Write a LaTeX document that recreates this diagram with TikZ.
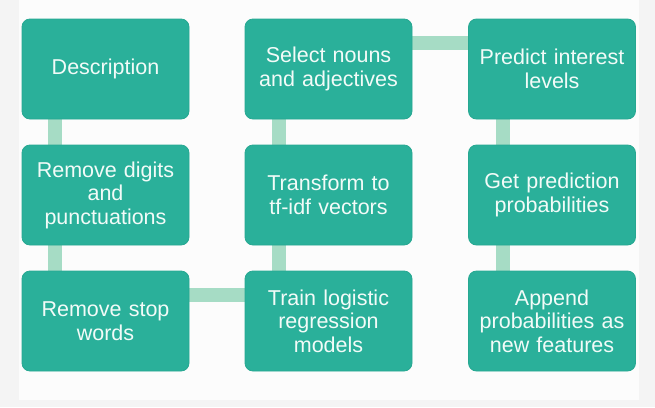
\documentclass[tikz,border=0pt]{standalone}
\usepackage{fontspec}
\setmainfont{Liberation Sans}
\usetikzlibrary{backgrounds}
\definecolor{boxfill}{HTML}{2AB09A}
\definecolor{boxline}{HTML}{27A892}
\definecolor{linkcol}{HTML}{A6DCC5}
\definecolor{outerbg}{HTML}{F4F4F4}
\definecolor{innerbg}{HTML}{FCFCFC}
\definecolor{txtcol}{HTML}{F2FBF8}
\tikzset{
  stepbox/.style={draw=boxline, line width=0.8pt, fill=boxfill, rounded corners=8pt,
    minimum width=167pt, minimum height=100pt, text width=160pt, align=center,
    text=txtcol, inner sep=0pt,
    font=\fontsize{21.5pt}{23.5pt}\selectfont},
  link/.style={draw=linkcol, line width=14pt}
}
\begin{document}
\begin{tikzpicture}[x=1pt,y=-1pt]
\useasboundingbox (0,0) rectangle (655,407);
\node[stepbox] (d) at (105.5,69) {Description};
\node[stepbox] (rd) at (105.5,195) {Remove digits\\and\\punctuations};
\node[stepbox] (rs) at (105.5,321) {Remove stop\\words};
\node[stepbox] (sn) at (328.5,69) {Select nouns\\and adjectives};
\node[stepbox] (tf) at (328.5,195) {Transform to\\tf-idf vectors};
\node[stepbox] (tr) at (328.5,321) {Train logistic\\regression\\models};
\node[stepbox] (pi) at (552,69) {Predict interest\\levels};
\node[stepbox] (gp) at (552,195) {Get prediction\\probabilities};
\node[stepbox] (ap) at (552,321) {Append\\probabilities as\\new features};
\begin{scope}[on background layer]
\fill[outerbg] (0,0) rectangle (655,407);
\fill[innerbg] (19,0) rectangle (639,400);
\draw[link] ([xshift=33pt]d.south west) -- ([xshift=33pt]rd.north west);
\draw[link] ([xshift=33pt]rd.south west) -- ([xshift=33pt]rs.north west);
\draw[link] ([yshift=-24pt]rs.north east) -- ([yshift=-24pt]tr.north west);
\draw[link] ([xshift=34pt]tr.north west) -- ([xshift=34pt]tf.south west);
\draw[link] ([xshift=34pt]tf.north west) -- ([xshift=34pt]sn.south west);
\draw[link] ([yshift=-24pt]sn.north east) -- ([yshift=-24pt]pi.north west);
\draw[link] ([xshift=35pt]pi.south west) -- ([xshift=35pt]gp.north west);
\draw[link] ([xshift=35pt]gp.south west) -- ([xshift=35pt]ap.north west);
\end{scope}
\end{tikzpicture}
\end{document}
